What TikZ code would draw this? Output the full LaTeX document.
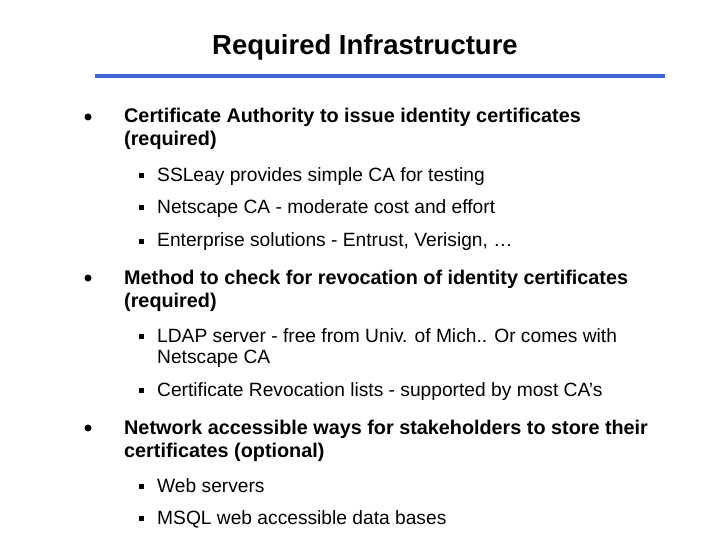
\documentclass[tikz,border=0pt]{standalone}
\usepackage{fontspec}
\setmainfont{Liberation Sans}
\begin{document}
\begin{tikzpicture}[x=1pt,y=-1pt,
  lone/.style={anchor=base west,font=\fontsize{19.8}{24}\selectfont\bfseries,inner sep=0pt},
  ltwo/.style={anchor=base west,font=\fontsize{19.2}{21}\selectfont,inner sep=0pt},
  bone/.style={circle,fill=black,inner sep=0pt,minimum size=7pt},
  btwo/.style={rectangle,fill=black,inner sep=0pt,minimum size=5pt}]
\useasboundingbox (0,0) rectangle (720,540);
\node[font=\fontsize{27.5}{30}\selectfont\bfseries,anchor=base] (title) at (365,55) {Required Infrastructure};
\coordinate (la) at (95,76); \coordinate (lb) at (665,76);
\draw[line width=4pt,color={rgb,255:red,60;green,100;blue,210}] (la) -- (lb);

\node[bone] (b1) at (88,117) {};
\node[lone] (t1) at (124,123) {Certificate Authority to issue identity certificates};
\node[lone] (t1b) at (124,146) {(required)};
\node[btwo] (s11) at (141,176) {}; \node[ltwo] (u11) at (157,182) {SSLeay provides simple CA for testing};
\node[btwo] (s12) at (141,208) {}; \node[ltwo] (u12) at (157,214) {Netscape CA - moderate cost and effort};
\node[btwo] (s13) at (141,241) {}; \node[ltwo] (u13) at (157,247) {Enterprise solutions - Entrust, Verisign, \dots};

\node[bone] (b2) at (88,278) {};
\node[lone] (t2) at (124,284) {Method to check for revocation of identity certificates};
\node[lone] (t2b) at (124,307) {(required)};
\node[btwo] (s21) at (141,336) {}; \node[ltwo] (u21) at (157,342) {LDAP server - free from Univ. of Mich.. Or comes with};
\node[ltwo] (u21b) at (157,363) {Netscape CA};
\node[btwo] (s22) at (141,390) {}; \node[ltwo] (u22) at (157,396) {Certificate Revocation lists - supported by most CA’s};

\node[bone] (b3) at (88,428) {};
\node[lone] (t3) at (124,434) {Network accessible ways for stakeholders to store their};
\node[lone] (t3b) at (124,457) {certificates (optional)};
\node[btwo] (s31) at (141,486) {}; \node[ltwo] (u31) at (157,492) {Web servers};
\node[btwo] (s32) at (141,518) {}; \node[ltwo] (u32) at (157,524) {MSQL web accessible data bases};
\end{tikzpicture}
\end{document}
